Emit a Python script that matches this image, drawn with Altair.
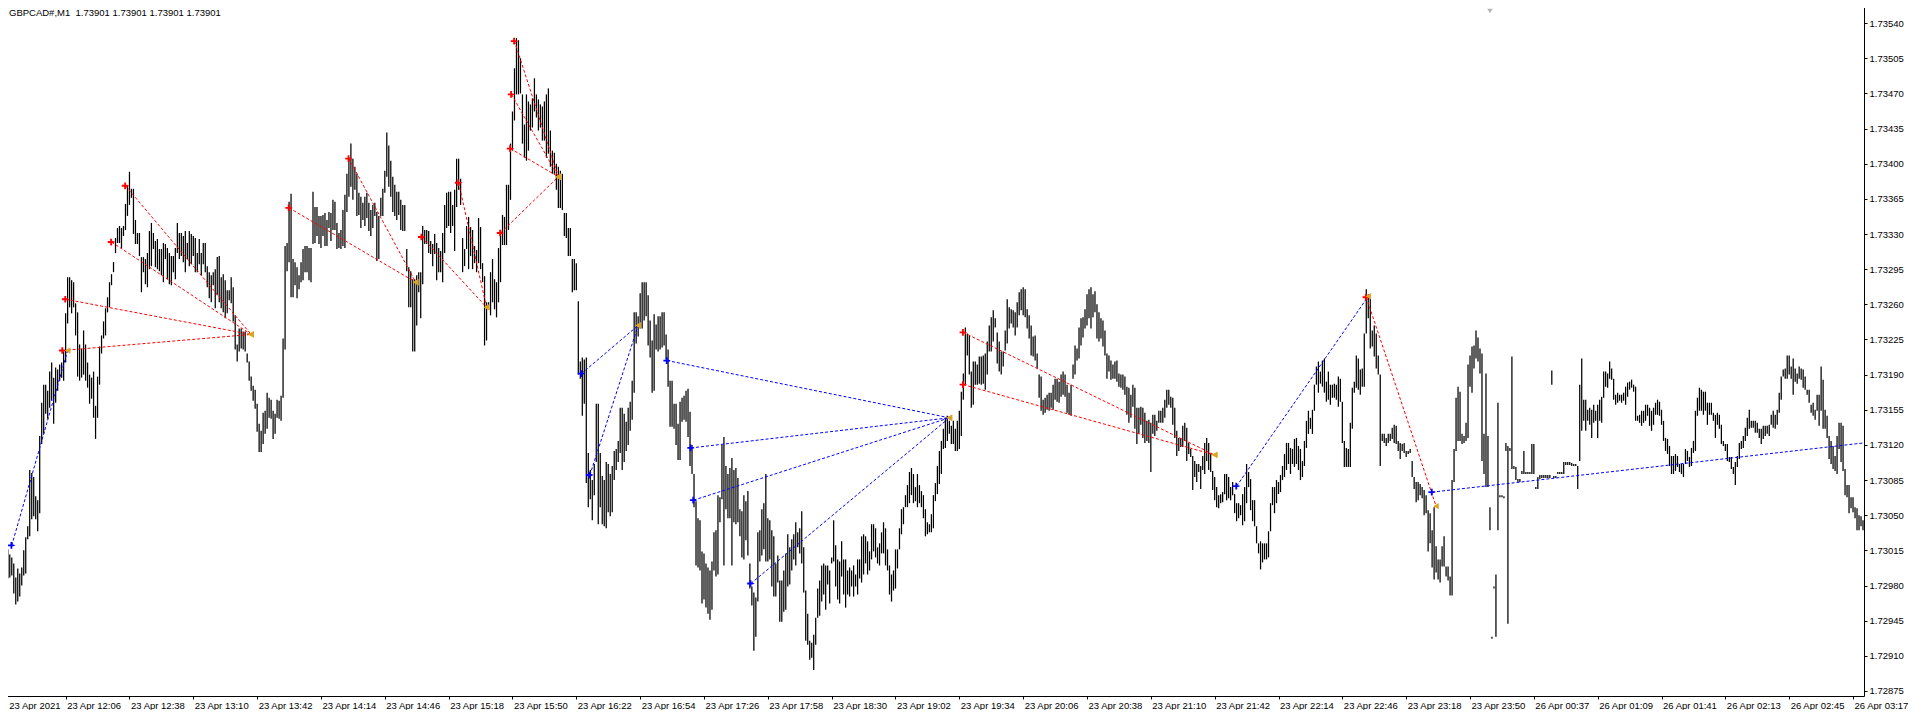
import altair as alt
import pandas as pd

FONT = "Liberation Sans"
FS = 9.5
BASE_PRICE = 1.72800
POINT = 0.00001

# bar highs / lows in points (0.00001) above 1.72800, one per M1 bar
HIGH_PTS = [
259,256,243,216,211,208,202,188,197,192, 198,215,228,239,295,292,288,269,265,329,
362,380,380,374,393,402,387,397,395,400, 402,413,451,487,487,484,482,461,452,420,
416,434,420,402,390,387,393,359,388,418, 429,443,456,467,482,490,502,526,536,538,
536,538,560,578,592,575,575,544,531,531, 507,507,505,511,533,541,531,523,525,515,
515,521,520,516,511,508,508,516,541,531, 531,528,533,521,533,530,528,526,511,525,
511,521,521,498,492,489,492,495,507,508, 487,490,484,474,474,487,477,449,420,436,
436,433,433,411,403,388,379,375,361,341, 334,352,354,372,367,365,354,351,365,364,
369,426,518,521,562,570,505,502,497,489, 502,515,518,518,516,516,572,557,557,548,
548,549,551,544,552,551,564,562,541,531, 534,554,569,590,606,620,605,597,590,571,
567,561,567,571,561,554,559,561,552,548, 566,575,593,631,618,603,587,579,572,572,
564,559,559,515,497,493,485,485,489,492, 492,538,534,534,533,523,520,530,521,516,
513,531,559,571,572,572,559,574,605,605, 585,526,515,538,
547,537,534,518,514,546,537,501,488,462, 462,492,505,485,482,516,534,549,547,579,
579,620,652,695,725,723,705,669,639,669, 662,659,665,685,669,664,659,657,662,669,
675,633,613,611,600,597,593,590,551,551, 536,536,505,505,501,463,
403,407,405,407,312,295,285,301,361,361, 312,289,285,303,301,291,299,314,316,324,
357,357,351,343,357,363,384,452,452,448, 471,482,482,482,469,444,424,450,440,448,
448,452,452,430,415,384,384,361,361,341, 363,367,369,374,376,353,320,291,264,247,
245,214,212,202,198,195,204,233,235,270, 268,320,328,299,291,297,307,295,297,287,
256,254,270,264,274,202,179,173,168,233, 235,256,262,291,247,245,235,229,202,210,
185,185,195,212,231,218,226,231,243,233, 237,254,218,175,152,125,123,131,148,177,
185,200,202,200,200,195,208,245,220,206, 204,224,206,206,195,198,195,200,191,206,
206,229,231,229,224,214,241,241,237,218, 222,233,243,237,216,200,191,195,216,216,
237,256,258,270,280,293,297,291,278,291, 280,274,270,256,243,241,251,270,282,
299,314,324,336,347,349,344,339,344,336, 344,354,373,391,437,431,429,393,403,403,
400,408,408,409,411,423,439,447,454,446, 432,423,413,413,434,465,457,455,454,452,
462,472,475,477,475,455,449,439,428,429, 411,390,388,365,367,370,372,372,380,386,
386,383,390,393,390,380,372,380,400,419, 416,437,446,447,455,470,475,477,470,473,
460,452,446,444,434,411,409,404,400,403, 404,391,390,390,388,378,377,370,380,377,
357,357,358,357,352,344,345,342,350,350, 344,354,354,357,365,375,375,368,367,357,
334,327,327,339,342,337,322,316,309,304, 301,301,299,309,322,327,322,311,294,288,
278,270,271,273,291,291,288,278,283,271, 262,262,260,271,278,301,293,286,265,265,
239,222,224,222,222,222,234,262,278,278, 285,283,290,299,311,322,322,317,316,326,
327,319,316,304,324,344,354,347,355,380, 398,403,393,404,406,383,393,380,380,381,
380,388,386,363,324,317,316,342,377,383, 409,406,395,396,431,475,470,469,434,439,
431,409,390,331,331,327,331,331,337,340, 339,324,322,321,322,
314,314,316,304,288,283,283,281,278,275, 270,255,252,235,258,219,206,206,219,229,
199,199,189,285,316,367,378,373,331,329, 342,400,409,418,419,434,427,416,411,331,
391,329,258,129,179,191,362,270,270,269, 322,319,317,408,299,298,286,286,294,314,
293,293,293,321,321,278,288,290,290,290, 290,290,290,394,289,289,293,293,293,303,
303,303,303,302,301,301,299,380,406,365, 365,355,357,355,360,354,360,365,368,393,
393,391,403,396,386,370,372,370,370,372, 378,382,383,385,380,378,349,350,354,354,
360,360,357,354,357,362,365,363,355,344, 327,326,319,309,309,311,309,301,301,301,
316,314,308,317,324,354,367,377,375,373, 373,362,362,362,352,350,352,350,340,324,
321,321,308,308,298,303,309,322,324,329, 337,347,355,344,344,344,342,336,336,339,
339,339,340,350,354,350,355,372,388,395, 396,409,409,398,406,396,391,398,396,395,
388,375,375,360,362,355,370,370,398,385, 355,349,329,324,319,309,329,342,342,339,
296,280,280,268,268,258,257,250,249,245,
]

LOW_PTS = [
228,234,216,187,188,190,172,161,164,169, 180,190,192,226,229,246,249,246,234,252,
321,331,351,346,357,364,341,362,374,384, 387,384,402,441,457,451,457,429,388,384,
387,390,384,377,361,366,347,326,347,380, 411,426,429,452,457,479,492,511,521,521,
516,528,534,548,559,566,530,520,520,508, 472,492,480,477,495,498,515,497,495,493,
489,482,505,485,480,479,492,485,511,505, 508,502,492,505,498,500,508,492,492,500,
489,500,492,477,466,462,479,456,469,462, 456,452,446,451,464,461,443,415,403,413,
416,415,413,402,384,374,364,356,333,313, 313,321,331,336,347,346,326,331,347,346,
344,367,415,493,502,467,467,479,466,475, 482,484,492,492,484,482,520,521,528,520,
516,528,518,518,536,523,534,534,515,516, 515,518,516,552,567,577,564,574,548,549,
536,544,538,546,533,528,536,548,503,505, 548,548,571,587,577,567,552,548,544,549,
534,533,533,493,457,457,413,413,439,472, 446,480,520,520,511,510,498,510,484,492,
492,482,511,536,538,531,538,513,557,574, 559,492,498,515,
495,508,495,501,492,501,495,482,419,424, 455,449,462,455,447,462,482,519,519,519,
534,564,613,643,669,669,670,620,606,603, 613,633,636,652,646,633,636,623,623,606,
610,597,590,590,574,556,556,554,528,526, 508,508,472,474,474,390,
386,349,361,282,258,266,245,270,303,241, 258,241,239,237,253,249,253,285,295,303,
312,295,303,314,320,334,345,372,421,428, 436,436,444,448,419,407,372,374,415,413,
415,417,419,405,378,338,338,336,320,305, 305,343,345,343,328,299,291,258,200,198,
195,162,166,158,152,146,156,195,189,191, 243,266,200,256,247,247,200,243,241,243,
229,208,206,225,210,177,160,115,129,164, 204,210,216,204,204,206,179,169,169,183,
144,144,154,156,179,181,195,206,200,218, 212,202,173,125,121,106,108,96,121,148,
150,164,171,156,181,162,202,204,179,166, 162,189,171,158,171,169,179,169,179,171,
187,183,191,202,191,195,206,214,208,202, 200,212,212,200,195,171,164,175,177,197,
216,231,241,258,258,262,270,262,264,258, 262,258,247,229,231,233,233,237,264,
271,281,291,316,317,324,331,321,321,314, 314,316,329,365,380,409,390,357,360,380,
380,381,380,381,375,390,413,413,423,437, 401,393,390,398,414,421,436,441,437,429,
437,449,454,449,447,436,426,409,408,404, 396,367,354,350,352,355,354,357,355,365,
363,362,368,370,368,352,350,349,386,390, 404,406,419,427,436,439,446,436,447,452,
426,423,426,418,409,386,393,385,386,386, 383,378,377,375,370,350,342,347,358,336,
321,331,340,327,322,324,322,293,331,329, 334,342,342,342,347,357,360,357,340,327,
309,314,318,318,324,304,311,308,275,288, 283,293,276,295,291,304,295,293,275,265,
258,257,262,263,271,265,267,265,270,252, 244,247,250,240,244,262,278,255,244,239,
222,212,196,203,206,206,208,234,260,252, 262,271,273,285,288,295,301,291,301,298,
301,295,285,288,299,317,331,336,331,354, 380,372,381,378,372,363,365,360,367,367,
365,358,363,322,298,298,298,298,336,372, 377,375,370,378,378,431,446,416,418,408,
396,390,299,324,322,319,322,324,326,322, 321,314,306,314,312,
308,311,312,288,276,263,265,270,267,250, 252,214,222,198,186,193,186,183,199,199,
189,185,170,170,283,314,324,324,321,322, 324,327,378,372,396,406,403,391,304,291,
278,278,235,127,177,129,235,268,268,267, 314,142,314,296,296,285,283,283,291,291,
291,291,291,291,291,276,276,286,287,287, 287,287,287,380,287,287,291,291,291,291,
300,300,300,299,299,299,276,304,334,344, 334,344,340,327,342,344,327,344,342,367,
378,377,386,385,365,360,362,364,362,364, 360,368,375,377,373,344,344,342,339,342,
344,349,339,334,340,350,350,349,340,324, 314,311,299,291,291,294,298,293,291,288,
301,304,298,299,312,314,349,354,354,350, 354,340,350,350,344,327,340,336,321,319,
314,304,303,296,291,280,298,306,316,317, 324,329,336,337,337,332,332,327,321,326,
329,331,329,340,337,336,340,352,365,388, 386,386,390,386,370,383,381,386,385,377,
375,370,362,352,349,345,354,339,354,336, 336,327,306,301,296,294,291,316,303,294,
270,268,252,257,253,247,235,235,239,235,
]

X_TICK_BARS = [0, 32, 64, 96, 128, 160, 192, 224, 256, 288, 320, 352, 384, 416, 448,
               480, 512, 544, 576, 608, 640, 672, 704, 736, 768, 800, 832, 864, 896, 928]
X_LABELS = ["23 Apr 2021", "23 Apr 12:06", "23 Apr 12:38", "23 Apr 13:10", "23 Apr 13:42",
            "23 Apr 14:14", "23 Apr 14:46", "23 Apr 15:18", "23 Apr 15:50", "23 Apr 16:22",
            "23 Apr 16:54", "23 Apr 17:26", "23 Apr 17:58", "23 Apr 18:30", "23 Apr 19:02",
            "23 Apr 19:34", "23 Apr 20:06", "23 Apr 20:38", "23 Apr 21:10", "23 Apr 21:42",
            "23 Apr 22:14", "23 Apr 22:46", "23 Apr 23:18", "23 Apr 23:50", "26 Apr 00:37",
            "26 Apr 01:09", "26 Apr 01:41", "26 Apr 02:13", "26 Apr 02:45", "26 Apr 03:17"]
Y_TICKS = [1.72875, 1.72910, 1.72945, 1.72980, 1.73015, 1.73050, 1.73085, 1.73120,
           1.73155, 1.73190, 1.73225, 1.73260, 1.73295, 1.73330, 1.73365, 1.73400,
           1.73435, 1.73470, 1.73505, 1.73540]

TRADE_SIDE = ["buy", "sell", "sell", "sell", "sell", "sell", "sell", "sell", "sell",
              "sell", "sell", "sell", "sell", "buy", "buy", "buy", "buy", "buy", "buy",
              "sell", "sell", "buy", "sell", "buy"]
ENTRY_BAR = [5, 30.5, 32, 62, 55, 144, 174, 210.5, 229, 250, 255, 255.5, 257,
             290.6, 294.8, 333.5, 345.5, 346.8, 375.5, 482, 482, 619, 684, 717]
ENTRY_PRICE = [1.73020, 1.73214, 1.73265, 1.73378, 1.73322, 1.73356, 1.73405, 1.73327,
               1.73381, 1.73331, 1.73415, 1.73469, 1.73522, 1.73191, 1.73090, 1.73204,
               1.73117, 1.73065, 1.72982, 1.73232, 1.73180, 1.73079, 1.73267, 1.73073]
EXIT_BAR = [33, 125, 125, 125, 125, 207.5, 207.5, 243, 243, 279, 279, 279, 279,
            319, 319, 475, 475, 475, 475, 608, 608, 685, 719, 933.5]
EXIT_PRICE = [1.73214, 1.73230, 1.73230, 1.73230, 1.73230, 1.73282, 1.73282, 1.73257,
              1.73257, 1.73387, 1.73387, 1.73387, 1.73387, 1.73239, 1.73239, 1.73147,
              1.73147, 1.73147, 1.73147, 1.73110, 1.73110, 1.73268, 1.73059, 1.73122]
EXIT_SHOWN = [True] * 23 + [False]

TITLE_TEXT = "GBPCAD#,M1\u00a0 1.73901 1.73901 1.73901 1.73901"
SHIFT_MARK_BAR = [746]

assert len(HIGH_PTS) == len(LOW_PTS) == 934, (len(HIGH_PTS), len(LOW_PTS))

# every layer uses the same field names "bar" (x) and "price" (y) so axes merge cleanly
bars = pd.DataFrame({
    "bar": list(range(len(HIGH_PTS))),
    "price": [BASE_PRICE + l * POINT for l in LOW_PTS],
    "price_hi": [BASE_PRICE + h * POINT for h in HIGH_PTS],
})
trades = pd.DataFrame({
    "side": TRADE_SIDE, "bar": ENTRY_BAR, "price": ENTRY_PRICE,
    "bar_exit": EXIT_BAR, "price_exit": EXIT_PRICE, "shown": EXIT_SHOWN,
})
exits = pd.DataFrame({"bar": EXIT_BAR, "price": EXIT_PRICE, "shown": EXIT_SHOWN})

xscale = alt.Scale(domain=[-0.4, 933.5], nice=False, zero=False)
yscale = alt.Scale(domain=[1.72870, 1.73562], nice=False, zero=False)
side_color = alt.Scale(domain=["buy", "sell"], range=["#0000ff", "#ff0000"])

label_expr = "[" + ",".join("'" + s + "'" for s in X_LABELS) + "][round(datum.value / 32)]"
xaxis = alt.Axis(values=X_TICK_BARS, labelExpr=label_expr, labelAlign="left",
                 labelBaseline="top", labelPadding=1, tickSize=3, labelOverlap=False,
                 labelFlush=False, title=None, domain=False, grid=False, orient="bottom",
                 labelOffset={"condition": {"test": "datum.value === 0", "value": 7}, "value": 1},
                 labelFont=FONT, labelFontSize=FS, labelColor="black", tickColor="black")
yaxis = alt.Axis(values=Y_TICKS, format=".5f", orient="right", tickSize=3, labelPadding=2,
                 title=None, domain=False, grid=False, labelOverlap=False, labelFlush=False,
                 labelFont=FONT, labelFontSize=FS, labelColor="black", tickColor="black")

X = alt.X("bar:Q", scale=xscale, axis=xaxis)
Y = alt.Y("price:Q", scale=yscale, axis=yaxis)

bar_layer = alt.Chart(bars).mark_rule(color="black", strokeWidth=1.25).encode(
    x=X, y=Y, y2="price_hi:Q",
)

line_layer = alt.Chart(trades).mark_rule(strokeDash=[3, 2], strokeWidth=1).encode(
    x=X, x2="bar_exit:Q", y=Y, y2="price_exit:Q",
    color=alt.Color("side:N", scale=side_color, legend=None),
)

ARROW = ("M-1,-0.25L-0.35,-0.25L-0.35,-0.9L0.15,-0.9L0.15,-0.25L0.45,-0.25L1,0"
         "L0.45,0.25L0.15,0.25L0.15,0.9L-0.35,0.9L-0.35,0.25L-1,0.25Z")
entry_layer = alt.Chart(trades).mark_point(shape=ARROW, filled=True, size=55, opacity=1).encode(
    x=X, y=Y,
    color=alt.Color("side:N", scale=side_color, legend=None),
)

exit_layer = alt.Chart(exits).transform_filter("datum.shown").mark_point(
    shape="triangle-left", filled=True, size=40, opacity=1, color="#DAA520"
).encode(x=X, y=Y)

title_layer = alt.Chart(pd.DataFrame({"t": [TITLE_TEXT]})).mark_text(
    align="left", baseline="top", font=FONT, fontSize=FS, color="black"
).encode(x=alt.value(8), y=alt.value(7), text="t:N")

shift_layer = alt.Chart(pd.DataFrame({"bar": SHIFT_MARK_BAR})).mark_point(
    shape="triangle-down", filled=True, size=30, opacity=1, color="#b4b4b4"
).encode(x=X, y=alt.value(10))

chart = alt.layer(bar_layer, line_layer, entry_layer, exit_layer, title_layer, shift_layer).properties(
    width=1901, height=702,
    autosize=alt.AutoSizeParams(type="fit", contains="padding"),
    padding={"left": -7, "top": -7, "right": 0, "bottom": 0},
    background="white",
).configure_view(stroke="black", strokeWidth=1)

chart.save("out.html", embed_options={"renderer": "svg", "actions": False})
